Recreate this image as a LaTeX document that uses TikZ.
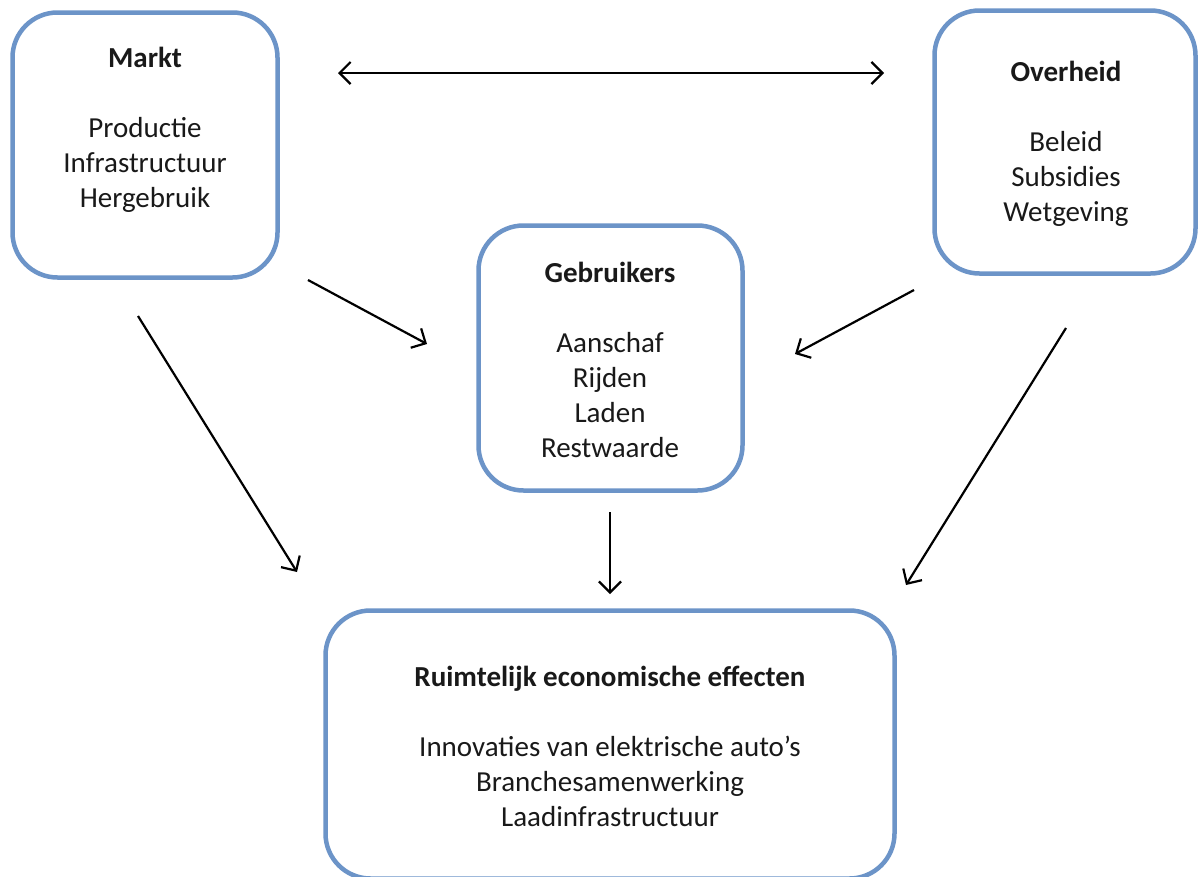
\documentclass[tikz,border=0pt]{standalone}
\usepackage{fontspec}
\setmainfont{Carlito}
\usetikzlibrary{arrows.meta}
\definecolor{boxblue}{RGB}{108,148,200}
\tikzset{
  box/.style={draw=boxblue, line width=4.5pt, rounded corners=45pt, rectangle, fill=white, inner sep=0pt},
  txt/.style={align=center, font=\fontsize{29}{35}\selectfont, text=black!90, inner sep=0pt},
  conn/.style={line width=2.2pt, -{Straight Barb[length=11pt,width=22pt,line width=2.2pt]}},
  dconn/.style={line width=2.2pt, {Straight Barb[length=11pt,width=22pt,line width=2.2pt]}-{Straight Barb[length=11pt,width=22pt,line width=2.2pt]}}
}
\begin{document}
\begin{tikzpicture}[x=1pt,y=-1pt]
\useasboundingbox (0,0) rectangle (1200,876);
\node[box, minimum width=265pt, minimum height=265pt] (markt) at (145,145) {};
\node[box, minimum width=261pt, minimum height=263pt] (overheid) at (1065,142) {};
\node[box, minimum width=264pt, minimum height=265pt] (gebruikers) at (610.5,358) {};
\node[box, minimum width=569pt, minimum height=268pt] (ruimte) at (610,744.5) {};

\node[txt] (tmarkt) at (145,130) {\textbf{Markt}\\[35pt]Productie\\Infrastructuur\\Hergebruik};
\node[txt] (toverheid) at (1066,144) {\textbf{Overheid}\\[35pt]Beleid\\Subsidies\\Wetgeving};
\node[txt] (tgebruikers) at (610,360) {\textbf{Gebruikers}\\[35pt]Aanschaf\\Rijden\\Laden\\Restwaarde};
\node[txt] (truimte) at (610,746) {\textbf{Ruimtelijk economische effecten}\\[35pt]Innovaties van elektrische auto’s\\Branchesamenwerking\\Laadinfrastructuur};

\coordinate (a1) at (338,73);
\coordinate (a2) at (884,73);
\coordinate (b1) at (308,280);
\coordinate (b2) at (427,344);
\coordinate (c1) at (914,290);
\coordinate (c2) at (795,354);
\coordinate (d1) at (138,316);
\coordinate (d2) at (297,572);
\coordinate (e1) at (1066,328);
\coordinate (e2) at (906,585);
\coordinate (f1) at (610,512);
\coordinate (f2) at (610,594);

\draw[dconn] (a1) -- (a2);
\draw[conn] (b1) -- (b2);
\draw[conn] (c1) -- (c2);
\draw[conn] (d1) -- (d2);
\draw[conn] (e1) -- (e2);
\draw[conn] (f1) -- (f2);
\end{tikzpicture}
\end{document}
